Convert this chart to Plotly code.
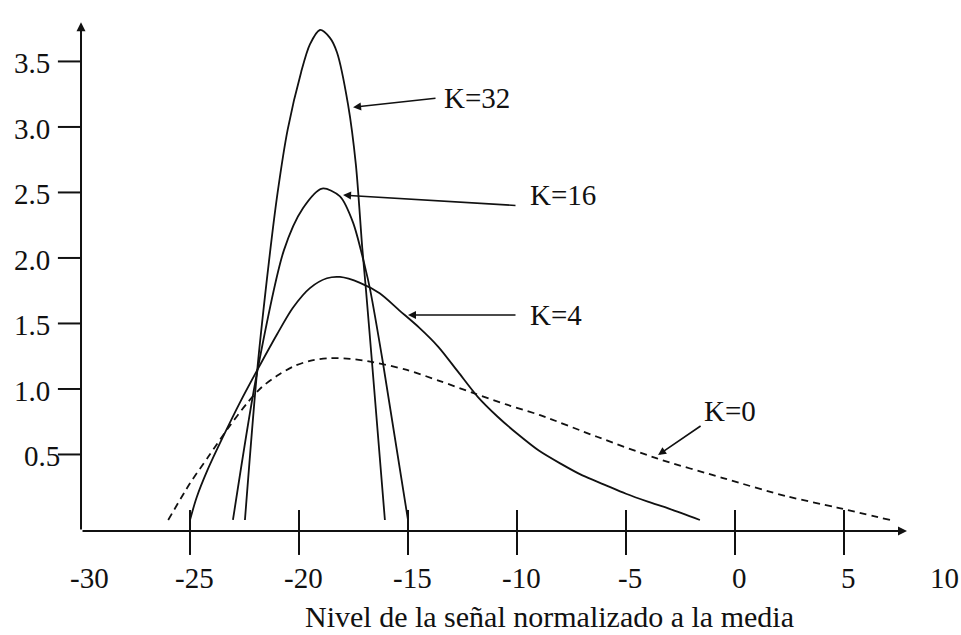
import plotly.graph_objects as go

# Density curves of the normalised signal level for several Rice factors K
k32_x = [-22.48, -21.93, -21.38, -20.98, -20.52, -19.90, -19.50, -19.04, -18.58, -18.26,
         -17.75, -17.39, -17.10, -16.93, -16.65, -16.06]
k32_y = [0.0, 1.12, 1.97, 2.50, 2.98, 3.42, 3.63, 3.74, 3.68, 3.57,
         3.17, 2.71, 2.08, 1.76, 1.20, 0.0]

k16_x = [-23.03, -21.93, -20.69, -19.82, -18.94, -18.12, -17.52, -16.97, -16.74, -16.15, -15.0]
k16_y = [0.0, 1.12, 2.06, 2.38, 2.53, 2.47, 2.27, 1.93, 1.76, 1.20, 0.0]

k4_x = [-25.0, -24.7, -24.2, -23.5, -22.7, -21.93, -21.0, -20.28, -19.5, -18.72, -18.12,
        -17.2, -16.3, -15.4, -14.5, -13.6, -12.7, -11.8, -10.9, -10.0, -9.0, -8.0,
        -7.0, -6.0, -5.0, -4.0, -3.0, -1.61]
k4_y = [0.0, 0.17, 0.38, 0.63, 0.90, 1.14, 1.42, 1.62, 1.77, 1.845, 1.855,
        1.81, 1.73, 1.60, 1.47, 1.32, 1.13, 0.94, 0.79, 0.66, 0.53, 0.43,
        0.34, 0.27, 0.20, 0.14, 0.085, 0.0]

k0_x = [-26.0, -25.0, -24.17, -23.30, -22.39, -21.70, -21.01, -20.28, -19.50, -18.58, -17.66,
        -16.61, -15.05, -13.53, -12.02, -10.46, -8.94, -6.33, -3.58, -0.55, 2.39, 4.68, 7.11]
k0_y = [0.0, 0.28, 0.48, 0.69, 0.89, 1.015, 1.10, 1.17, 1.215, 1.235, 1.23,
        1.205, 1.145, 1.06, 0.97, 0.88, 0.80, 0.635, 0.47, 0.32, 0.18, 0.095, 0.0]

x_ticks = [-30, -25, -20, -15, -10, -5, 0, 5, 10]
x_tick_labels = ["-30", "-25", "-20", "-15", "-10", "-5", "0", "5", "10"]
y_ticks = [0.5, 1.0, 1.5, 2.0, 2.5, 3.0, 3.5]
y_tick_labels = ["0.5", "1.0", "1.5", "2.0", "2.5", "3.0", "3.5"]

curve_labels = ["K=32", "K=16", "K=4", "K=0"]

x_title = "Nivel de la señal normalizado a la media"

INK = "#111111"
FONT = "Liberation Serif"
FS = 29

# axis frame in data units
X0, X_END = -30.0, 7.89
Y0, Y_END = -0.084, 3.80

fig = go.Figure()

solid = dict(color=INK, width=1.8, shape="spline", smoothing=0.8)
fig.add_trace(go.Scatter(x=k32_x, y=k32_y, mode="lines", line=solid, hoverinfo="skip"))
fig.add_trace(go.Scatter(x=k16_x, y=k16_y, mode="lines", line=solid, hoverinfo="skip"))
fig.add_trace(go.Scatter(x=k4_x, y=k4_y, mode="lines", line=solid, hoverinfo="skip"))
fig.add_trace(go.Scatter(x=k0_x, y=k0_y, mode="lines",
                         line=dict(color=INK, width=1.8, dash="7px,5px", shape="spline", smoothing=0.8),
                         hoverinfo="skip"))

shapes = []
# x tick marks cross the axis line
for t in x_ticks[1:-1]:
    shapes.append(dict(type="line", xref="x", yref="y", x0=t, x1=t, y0=0.076, y1=-0.267,
                       line=dict(color=INK, width=2)))
# y tick marks point outward
for t in y_ticks:
    shapes.append(dict(type="line", xref="x", yref="y", x0=-31.06, x1=X0, y0=t, y1=t,
                       line=dict(color=INK, width=2)))

annotations = []


def arrow(tip, tail, width=1.8, size=1.0):
    return dict(x=tip[0], y=tip[1], ax=tail[0], ay=tail[1], xref="x", yref="y",
                axref="x", ayref="y", text="", showarrow=True, arrowhead=2,
                arrowsize=size, arrowwidth=width, arrowcolor=INK, standoff=0, startstandoff=0)


# axes with arrowheads
annotations.append(arrow((X0, Y_END), (X0, Y0), width=2.0, size=0.9))
annotations.append(arrow((X_END, Y0), (X0, Y0), width=2.0, size=0.9))

for t, lab in zip(x_ticks, x_tick_labels):
    shift = 4
    if t == x_ticks[0]:
        shift = 8
    elif t == x_ticks[-1]:
        shift = -9
    annotations.append(dict(x=t, y=-0.443, xref="x", yref="y", text=lab, showarrow=False,
                            xanchor="center", yanchor="middle", xshift=shift,
                            font=dict(family=FONT, size=FS, color=INK)))

for t, lab in zip(y_ticks, y_tick_labels):
    xr = -30.87 if t == y_ticks[0] else -31.33
    annotations.append(dict(x=xr, y=t, xref="x", yref="y", text=lab, showarrow=False,
                            xanchor="right", yanchor="middle", yshift=-2,
                            font=dict(family=FONT, size=FS, color=INK)))

# curve labels and their pointers
label_pos = [(-11.83, 3.22), (-7.89, 2.48), (-8.21, 1.565), (-0.23, 0.83)]
pointer_tip = [(-17.52, 3.15), (-17.98, 2.48), (-15.0, 1.565), (-3.53, 0.496)]
pointer_tail = [(-13.67, 3.22), (-10.0, 2.40), (-10.0, 1.565), (-1.51, 0.725)]
for lab, pos, tip, tail in zip(curve_labels, label_pos, pointer_tip, pointer_tail):
    annotations.append(dict(x=pos[0], y=pos[1], xref="x", yref="y", text=lab, showarrow=False,
                            xanchor="center", yanchor="middle",
                            font=dict(family=FONT, size=FS, color=INK)))
    annotations.append(arrow(tip, tail, width=1.6, size=1.0))

annotations.append(dict(x=-8.49, y=-0.733, xref="x", yref="y", text=x_title, showarrow=False,
                        xanchor="center", yanchor="middle",
                        font=dict(family=FONT, size=30, color=INK)))

fig.update_layout(
    width=961, height=635,
    margin=dict(l=0, r=0, t=0, b=0),
    paper_bgcolor="white", plot_bgcolor="white",
    showlegend=False,
    xaxis=dict(range=[-33.716, 10.367], visible=False, fixedrange=True),
    yaxis=dict(range=[-0.878, 3.969], visible=False, fixedrange=True),
    shapes=shapes,
    annotations=annotations,
)

fig.write_html("out.html", config={"displayModeBar": False})
